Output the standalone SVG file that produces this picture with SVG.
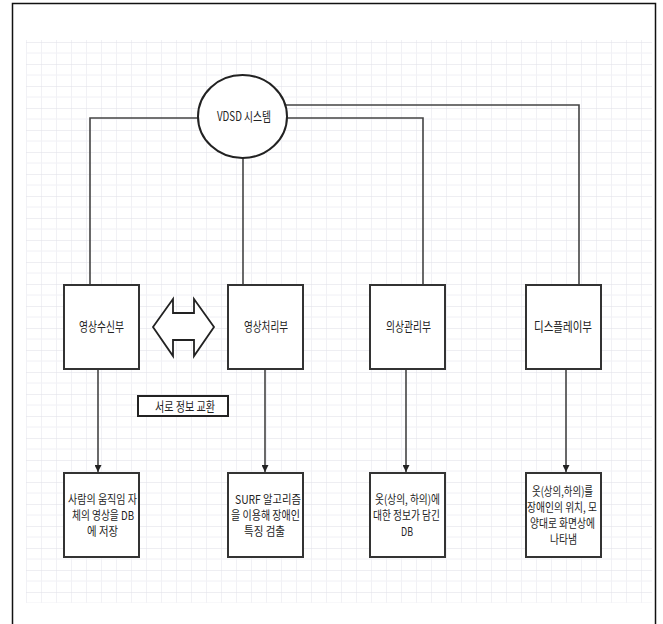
<svg xmlns="http://www.w3.org/2000/svg" width="663" height="624" viewBox="0 0 663 624">
<style>
.box{fill:#fff;stroke:#333;stroke-width:2}
.conn{fill:none;stroke:#444;stroke-width:1.6}
.t{font-family:"Noto Sans CJK KR","Liberation Sans",sans-serif;font-size:13px;fill:#222;text-anchor:middle}
.m{font-size:12px}
</style>
<defs>
<pattern id="grid" x="26" y="42" width="15" height="22" patternUnits="userSpaceOnUse">
<path d="M0 0V22" stroke="#e4e4ec" stroke-width="1"/>
<path d="M0 0H15" stroke="#e2e2ea" stroke-width="1.2"/>
<path d="M0 11H15" stroke="#f0f0f5" stroke-width="1"/>
</pattern>
<marker id="ah" viewBox="0 0 10 10" refX="10" refY="5" markerWidth="7" markerHeight="7" markerUnits="userSpaceOnUse" orient="auto">
<path d="M0 0L10 5L0 10z" fill="#222"/>
</marker>
</defs>
<rect x="0" y="0" width="663" height="624" fill="#fff"/>
<rect x="12.5" y="3.5" width="643" height="640" fill="none" stroke="#111" stroke-width="1.5"/>
<rect x="26" y="40" width="626" height="563" fill="url(#grid)"/>
<g id="connectors">
<polyline class="conn" points="199,118 90,118 90,285"/>
<line class="conn" x1="243" y1="158" x2="243" y2="285"/>
<polyline class="conn" points="286,118 423,118 423,285"/>
<polyline class="conn" points="285,105 579,105 579,285"/>
<line class="conn" x1="98" y1="369" x2="98" y2="472" marker-end="url(#ah)"/>
<line class="conn" x1="265" y1="369" x2="265" y2="472" marker-end="url(#ah)"/>
<line class="conn" x1="406" y1="369" x2="406" y2="472" marker-end="url(#ah)"/>
<line class="conn" x1="566" y1="369" x2="566" y2="472" marker-end="url(#ah)"/>
</g>
<g id="vdsd">
<ellipse cx="242.5" cy="116.5" rx="44.5" ry="41.5" fill="#fff" stroke="#222" stroke-width="2"/>
<text class="t" x="244" y="121" textLength="54" lengthAdjust="spacingAndGlyphs">VDSD 시스템</text>
</g>
<g id="recv">
<rect class="box" x="64" y="285" width="75" height="84"/>
<text class="t" x="101.5" y="331" textLength="45" lengthAdjust="spacingAndGlyphs">영상수신부</text>
</g>
<g id="proc">
<rect class="box" x="228" y="285" width="75" height="84"/>
<text class="t" x="266" y="331" textLength="44" lengthAdjust="spacingAndGlyphs">영상처리부</text>
</g>
<g id="cloth">
<rect class="box" x="370" y="285" width="75" height="84"/>
<text class="t" x="408.5" y="331" textLength="45" lengthAdjust="spacingAndGlyphs">의상관리부</text>
</g>
<g id="display">
<rect class="box" x="526" y="285" width="75" height="84"/>
<text class="t" x="563" y="331" textLength="58" lengthAdjust="spacingAndGlyphs">디스플레이부</text>
</g>
<g id="exchange">
<path d="M153 327L173 299L173 313L194 313L194 299L214 327L194 356L194 340L173 340L173 356Z" fill="#fff" stroke="#222" stroke-width="1.8" stroke-linejoin="miter"/>
</g>
<g id="exlabel">
<rect x="138" y="396" width="90" height="20" fill="#fff" stroke="#222" stroke-width="2"/>
<text class="t" x="185" y="410.5" textLength="60" lengthAdjust="spacingAndGlyphs">서로 정보 교환</text>
</g>
<g id="store">
<rect class="box" x="64" y="473" width="75" height="84"/>
<text class="t m" x="102.5" y="504" textLength="69" lengthAdjust="spacingAndGlyphs">사람의 움직임 자</text>
<text class="t m" x="103" y="520" textLength="62" lengthAdjust="spacingAndGlyphs">체의 영상을 DB</text>
<text class="t m" x="102.5" y="536" textLength="31" lengthAdjust="spacingAndGlyphs">에 저장</text>
</g>
<g id="surf">
<rect class="box" x="228" y="473" width="75" height="84"/>
<text class="t m" x="268" y="504" textLength="66" lengthAdjust="spacingAndGlyphs">SURF 알고리즘</text>
<text class="t m" x="265.5" y="520" textLength="69" lengthAdjust="spacingAndGlyphs">을 이용해 장애인</text>
<text class="t m" x="264.5" y="536" textLength="41" lengthAdjust="spacingAndGlyphs">특징 검출</text>
</g>
<g id="db">
<rect class="box" x="370" y="473" width="75" height="84"/>
<text class="t m" x="407.5" y="504" textLength="65" lengthAdjust="spacingAndGlyphs">옷(상의, 하의)에</text>
<text class="t m" x="406.5" y="520" textLength="67" lengthAdjust="spacingAndGlyphs">대한 정보가 담긴</text>
<text class="t m" x="407" y="536" textLength="12" lengthAdjust="spacingAndGlyphs">DB</text>
</g>
<g id="show">
<rect class="box" x="526" y="473" width="75" height="84"/>
<text class="t m" x="562.5" y="496" textLength="61" lengthAdjust="spacingAndGlyphs">옷(상의,하의)를</text>
<text class="t m" x="562" y="512" textLength="70" lengthAdjust="spacingAndGlyphs">장애인의 위치, 모</text>
<text class="t m" x="562.5" y="528" textLength="65" lengthAdjust="spacingAndGlyphs">양대로 화면상에</text>
<text class="t m" x="563.5" y="544" textLength="27" lengthAdjust="spacingAndGlyphs">나타냄</text>
</g>
</svg>
